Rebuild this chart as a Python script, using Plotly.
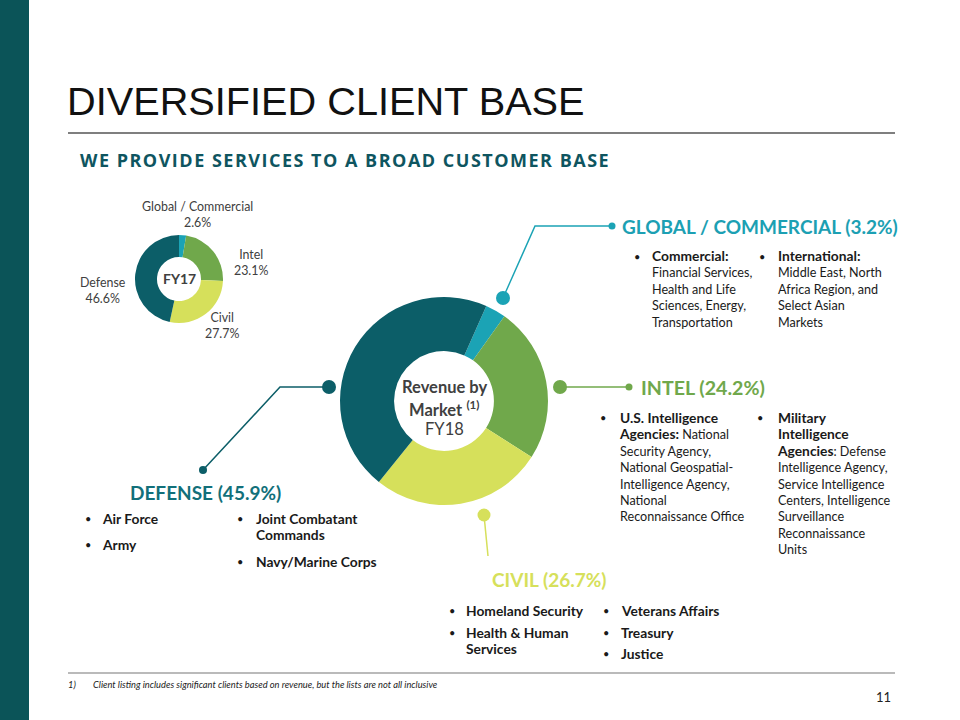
import plotly.graph_objects as go

W, H = 960, 720

# --- data -------------------------------------------------------------
markets = ["Global / Commercial", "Intel", "Civil", "Defense"]
fy18_share = [3.2, 24.2, 26.7, 45.9]
fy17_share = [2.6, 23.1, 27.7, 46.6]
market_colors = ["#1ba3b5", "#70a84b", "#d6e05b", "#0c5e68"]
header_colors = ["#1ca0b3", "#70a84b", "#d6e05b", "#12707a"]

global_items = [
    ["<b>Commercial:</b>", "Financial Services,", "Health and Life", "Sciences, Energy,", "Transportation"],
    ["<b>International:</b>", "Middle East, North", "Africa Region, and", "Select Asian", "Markets"],
]
intel_items = [
    ["<b>U.S. Intelligence</b>", "<b>Agencies:</b> National", "Security Agency,", "National Geospatial-",
     "Intelligence Agency,", "National", "Reconnaissance Office"],
    ["<b>Military</b>", "<b>Intelligence</b>", "<b>Agencies</b>: Defense", "Intelligence Agency,",
     "Service Intelligence", "Centers, Intelligence", "Surveillance", "Reconnaissance", "Units"],
]
defense_items = [
    ["<b>Air Force</b>"],
    ["<b>Army</b>"],
    ["<b>Joint Combatant</b>", "<b>Commands</b>"],
    ["<b>Navy/Marine Corps</b>"],
]
civil_items = [
    ["<b>Homeland Security</b>"],
    ["<b>Health &amp; Human</b>", "<b>Services</b>"],
    ["<b>Veterans Affairs</b>"],
    ["<b>Treasury</b>"],
    ["<b>Justice</b>"],
]

# --- layout helpers (pixel -> paper) -----------------------------------
BODY = "Lato, 'Open Sans', sans-serif"
TITLE_FONT = "'Liberation Sans', Arial, sans-serif"
DARK = "#1a1a1a"
GRAY = "#404040"
BOLD_PX = 13.8


def px(x):
    return x / W


def py(y):
    return 1 - y / H


shapes = []
annotations = []


def text(x, y, s, size=13, color=DARK, anchor="left", family=BODY, valign="middle"):
    if anchor == "left":
        x -= 2  # annotation box padding
    annotations.append(dict(
        x=px(x), y=py(y), xref="paper", yref="paper", text=s, showarrow=False,
        xanchor=anchor, yanchor=valign, align=anchor,
        font=dict(family=family, size=size, color=color),
    ))


def bigger_bold(s):
    return s.replace("<b>", f'<span style="font-size:{BOLD_PX}px"><b>').replace("</b>", "</b></span>")


def bullet_items(items, spots, size=12.6):
    lh = 1.3 * size
    for lines, (xb, xt, y0) in zip(items, spots):
        text(xb, y0, "•", size=11, anchor="center")
        ymid = y0 + (len(lines) - 1) * lh / 2
        text(xt, ymid, "<br>".join(bigger_bold(s) for s in lines), size=size)


def line(pts, color, width=1.5):
    path = "M " + " L ".join(f"{px(x)},{py(y)}" for x, y in pts)
    shapes.append(dict(type="path", path=path, xref="paper", yref="paper",
                       line=dict(color=color, width=width)))


def dot(x, y, r, color):
    shapes.append(dict(type="circle", xref="paper", yref="paper",
                       x0=px(x - r), x1=px(x + r), y0=py(y + r), y1=py(y - r),
                       fillcolor=color, line=dict(width=0)))


def domain(cx, cy, r):
    return dict(x=[px(cx - r), px(cx + r)], y=[py(cy + r), py(cy - r)])


# --- figure ------------------------------------------------------------
fig = go.Figure()

fig.add_trace(go.Pie(
    labels=markets, values=fy18_share, hole=0.48, sort=False,
    direction="clockwise", rotation=24,
    marker=dict(colors=market_colors, line=dict(width=0)),
    textinfo="none", hoverinfo="label+value", showlegend=False,
    domain=domain(444, 401, 104),
))
fig.add_trace(go.Pie(
    labels=markets, values=fy17_share, hole=0.5, sort=False,
    direction="clockwise", rotation=0,
    marker=dict(colors=market_colors, line=dict(width=0)),
    textinfo="none", hoverinfo="label+value", showlegend=False,
    domain=domain(179, 279, 44),
))

# side band and rules
shapes.append(dict(type="rect", xref="paper", yref="paper", x0=0, x1=px(29), y0=0, y1=1,
                   fillcolor="#0b5458", line=dict(width=0), layer="below"))
line([(68, 133), (895, 133)], "#555555", 1.3)
line([(68, 673), (895, 673)], "#777777", 1.2)

# titles
text(67, 101, "DIVERSIFIED CLIENT BASE", size=39.7, color="#111111", family=TITLE_FONT)
text(80, 160, '<span style="letter-spacing:1.5px"><b>WE PROVIDE SERVICES TO A BROAD CUSTOMER BASE</b></span>',
     size=18, color="#0e5560", family="'Open Sans', sans-serif")

# FY17 small donut labels
fy17_label_pos = [(197, 214), (251, 262), (222, 326), (103, 290)]
for name, val, (x, y) in zip(markets, fy17_share, fy17_label_pos):
    text(x, y, f"{name}<br>{val}%", size=12.4, color=GRAY, anchor="center")
text(179, 279, "<b>FY17</b>", size=14, color=GRAY, anchor="center")

# FY18 centre text
text(444, 387, "<b>Revenue by</b>", size=16.5, color=GRAY, anchor="center")
text(444, 409, "<b>Market</b> <b><sup>(1)</sup></b>", size=16.5, color=GRAY, anchor="center")
text(444, 429, "FY18", size=16.5, color=GRAY, anchor="center")

# callouts: connector lines, dots and headers
g, i, c, d = market_colors
line([(503, 298), (535, 226), (612, 226)], g)
dot(503, 298, 7, g)
dot(612, 226, 3.5, g)
line([(560, 387), (629, 387)], i)
dot(560, 387, 7, i)
dot(629, 387, 3.5, i)
line([(329, 387), (280, 387), (203, 470)], d)
dot(329, 387, 7, d)
dot(203, 470, 4, d)
line([(484, 515), (488, 556)], c)
dot(484, 515, 6.5, c)

hdr = [f"{m.upper()} ({v}%)" for m, v in zip(markets, fy18_share)]
text(622, 226, f"<b>{hdr[0]}</b>", size=19, color=header_colors[0])
text(641, 387, f"<b>{hdr[1]}</b>", size=19.6, color=header_colors[1])
text(492, 579, f"<b>{hdr[2]}</b>", size=19, color=header_colors[2])
text(205, 492, f"<b>{hdr[3]}</b>", size=19, color=header_colors[3], anchor="center")

# client lists
bullet_items(global_items, [(637, 652, 256), (762, 778, 256)])
bullet_items(intel_items, [(603, 619, 417), (760, 777, 417)])
bullet_items(defense_items, [(88, 102, 518), (88, 102, 544), (240, 256, 518), (240, 256, 561)])
bullet_items(civil_items, [(452, 466, 610), (452, 466, 632), (606, 621, 610), (606, 621, 632), (606, 621, 653)])

# footnote and page number
text(68, 684, "<i>1)</i>", size=9.3, color="#222222")
text(93, 684, "<i>Client listing includes significant clients based on revenue, but the lists are not all inclusive</i>",
     size=9.3, color="#222222")
text(893, 697, "11", size=13, color="#222222", anchor="right")

fig.update_layout(
    width=W, height=H, autosize=False,
    margin=dict(l=0, r=0, t=0, b=0),
    paper_bgcolor="white", plot_bgcolor="white",
    shapes=shapes, annotations=annotations,
    showlegend=False,
)

fig.write_html("out.html", config={"displayModeBar": False},
               post_script="document.body.style.margin='0px';")
